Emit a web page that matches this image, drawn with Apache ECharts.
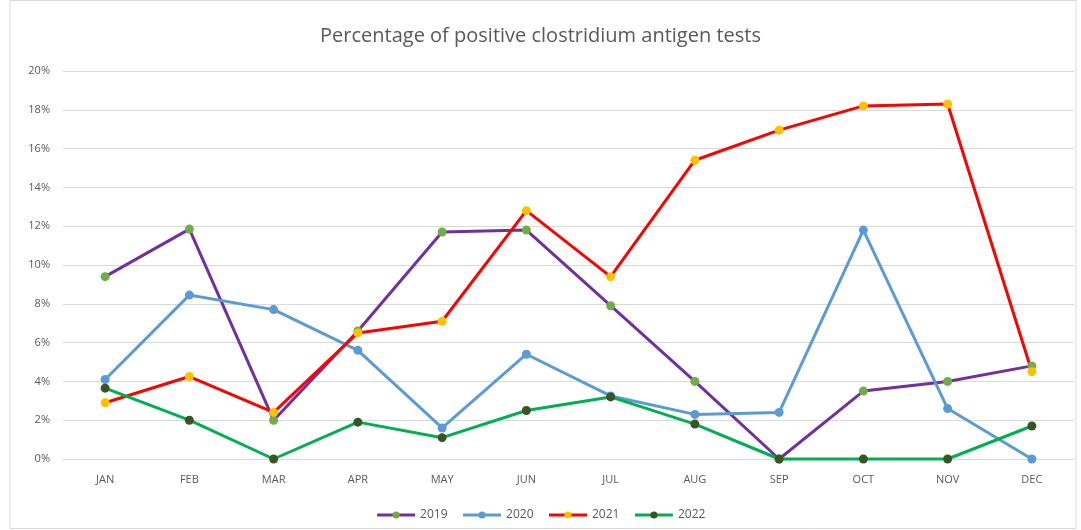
<!DOCTYPE html>
<html>
<head>
<meta charset="utf-8">
<script src="https://cdn.jsdelivr.net/npm/echarts@6/dist/echarts.min.js"></script>
<style>
  html, body { margin: 0; padding: 0; background: #fff; }
  #main { width: 1081px; height: 530px; }
</style>
</head>
<body>
<div id="main"></div>
<script>
var months = ['JAN', 'FEB', 'MAR', 'APR', 'MAY', 'JUN', 'JUL', 'AUG', 'SEP', 'OCT', 'NOV', 'DEC'];
var y2019 = [9.4, 11.85, 2.0, 6.6, 11.7, 11.8, 7.9, 4.0, 0, 3.5, 4.0, 4.8];
var y2020 = [4.1, 8.45, 7.7, 5.6, 1.6, 5.4, 3.25, 2.3, 2.4, 11.8, 2.6, 0];
var y2021 = [2.9, 4.25, 2.4, 6.5, 7.1, 12.8, 9.4, 15.4, 16.95, 18.2, 18.3, 4.5];
var y2022 = [3.65, 2.0, 0, 1.9, 1.1, 2.5, 3.2, 1.8, 0, 0, 0, 1.7];

function line(name, data, lineColor, dotColor) {
  return {
    name: name,
    type: 'line',
    data: data,
    symbol: 'circle',
    symbolSize: 9,
    clip: false,
    lineStyle: { color: lineColor, width: 3 },
    itemStyle: { color: dotColor },
    emphasis: { disabled: true }
  };
}

var myChart = echarts.init(document.getElementById('main'));
myChart.setOption({
  animation: false,
  textStyle: { fontFamily: 'Open Sans, Noto Sans, sans-serif' },
  graphic: [{
    type: 'rect',
    shape: { x: 10, y: 0.5, width: 1066, height: 528 },
    style: { fill: 'none', stroke: '#d9d9d9', lineWidth: 1 },
    z: -1
  }],
  title: {
    text: 'Percentage of positive clostridium antigen tests',
    left: 'center',
    top: 21,
    textStyle: { fontSize: 20, fontWeight: 'normal', color: '#595959' }
  },
  legend: {
    bottom: 4,
    left: 'center',
    itemWidth: 38,
    itemHeight: 9,
    itemGap: 14,
    lineStyle: { width: 3 },
    textStyle: { fontSize: 12, color: '#595959' },
    data: ['2019', '2020', '2021', '2022']
  },
  grid: { left: 63, right: 7, top: 71, bottom: 71 },
  xAxis: {
    type: 'category',
    data: months,
    boundaryGap: true,
    axisLine: { show: true, lineStyle: { color: '#d9d9d9' } },
    axisTick: { show: false },
    axisLabel: { color: '#595959', fontSize: 11, margin: 15 }
  },
  yAxis: {
    type: 'value',
    min: 0,
    max: 20,
    interval: 2,
    axisLine: { show: false },
    axisTick: { show: false },
    splitLine: { lineStyle: { color: '#d9d9d9' } },
    axisLabel: { color: '#595959', fontSize: 11, margin: 13, formatter: '{value}%' }
  },
  series: [
    line('2019', y2019, '#7030a0', '#70ad47'),
    line('2020', y2020, '#5b9bd5', '#5b9bd5'),
    line('2021', y2021, '#ff0000', '#ffc000'),
    line('2022', y2022, '#00b050', '#375623')
  ]
});
</script>
</body>
</html>
